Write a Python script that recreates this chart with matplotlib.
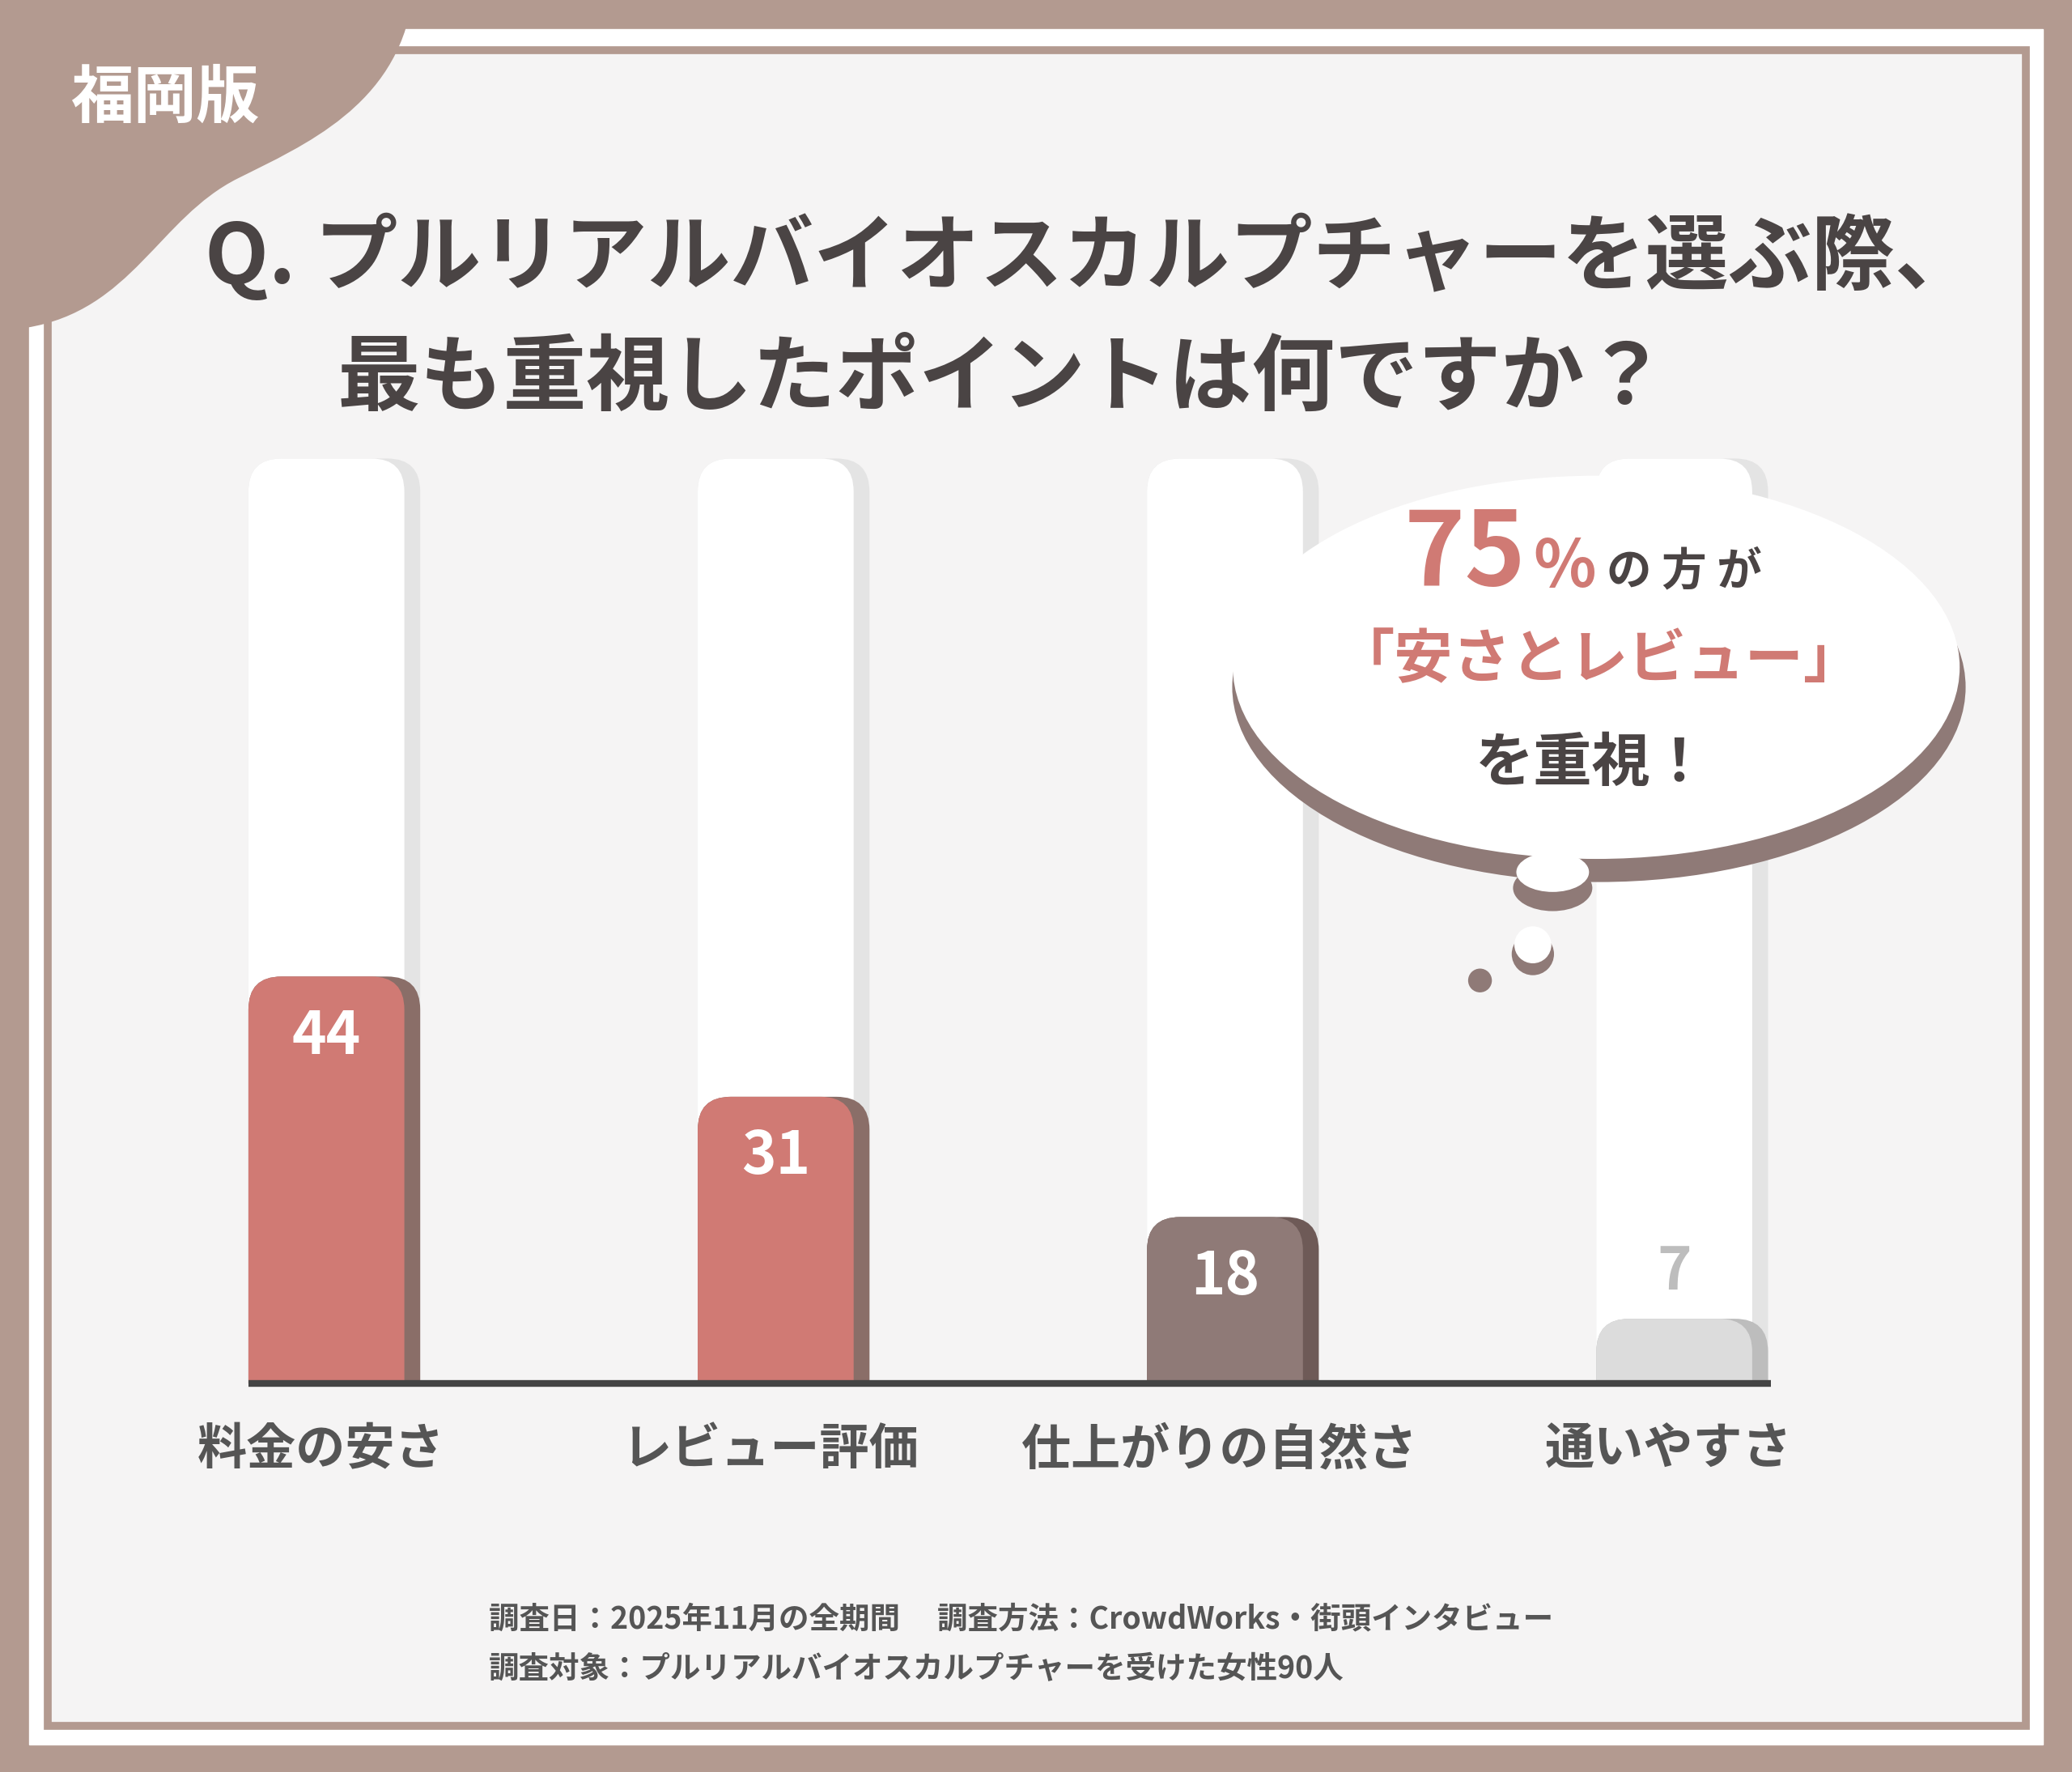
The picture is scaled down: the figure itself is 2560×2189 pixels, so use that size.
import matplotlib
matplotlib.use("Agg")
import matplotlib.pyplot as plt
from matplotlib.patches import Rectangle, FancyBboxPatch, PathPatch, Circle, Ellipse
from matplotlib.path import Path

plt.rcParams['font.family'] = ['Noto Sans CJK JP', 'DejaVu Sans']

categories = ["料金の安さ", "レビュー評価", "仕上がりの自然さ", "通いやすさ"]
values = [44, 31, 18, 7]
bar_colors = ["#d07a74", "#d07a74", "#8f7a77", "#dcdcdc"]
shadow_colors = ["#8a6e68", "#8a6e68", "#6e5a57", "#bdbdbd"]
label_colors = ["white", "white", "white", "#bdbdbd"]

W, H = 1568, 1341
fig = plt.figure(figsize=(25.6, 21.89), dpi=100)
BROWN = "#b39a90"
DARK = "#4a4444"
RED = "#d07a74"

bg = fig.add_axes([0, 0, 1, 1], zorder=0)
bg.set_xlim(0, W); bg.set_ylim(H, 0); bg.axis("off")
bg.add_patch(Rectangle((0, 0), W, H, color=BROWN))
bg.add_patch(Rectangle((22, 22), 1524, 1298, color="white"))
bg.add_patch(Rectangle((36, 38), 1497, 1268, facecolor="#f5f4f4", edgecolor=BROWN, lw=7))
verts = [(0, 0), (312, 0), (300, 80), (230, 110), (180, 135), (120, 165), (100, 235), (20, 248), (0, 250), (0, 0)]
codes = [Path.MOVETO, Path.LINETO, Path.CURVE4, Path.CURVE4, Path.CURVE4, Path.CURVE4, Path.CURVE4, Path.CURVE4, Path.LINETO, Path.CLOSEPOLY]
bg.add_patch(PathPatch(Path(verts, codes), color=BROWN, lw=0))
bg.text(125, 75, "福岡版", color="white", fontsize=56, fontweight="bold", ha="center", va="center")
bg.text(155, 195, "Q. プルリアルバイオスカルプチャーを選ぶ際、", color=DARK, fontsize=74, fontweight="bold", ha="left", va="center")
bg.text(255, 287, "最も重視したポイントは何ですか？", color=DARK, fontsize=74, fontweight="bold", ha="left", va="center")

# bar axes
x_left, x_right = 150, 1380
y_top, y_bot = 347, 1047
c0, sp = 253, 340
ax = fig.add_axes([x_left / W, 1 - y_bot / H, (x_right - x_left) / W, (y_bot - y_top) / H], zorder=1)
ax.set_xlim((x_left - c0) / sp, (x_right - c0) / sp)
ax.set_ylim(0, 100)
ax.axis("off")
ax.patch.set_alpha(0)
pxx = 1 / sp
pxy = 100 / 700
r = 25
asp = (r * pxy) / (r * pxx)
bw = 118 * pxx
sw = 130 * pxx
for i, v in enumerate(values):
    left = i - 65 * pxx
    ax.add_patch(FancyBboxPatch((left, -10), sw, 110, boxstyle=f"round,pad=0,rounding_size={r*pxx}", mutation_aspect=asp, fc="#e4e4e4", ec="none"))
    ax.add_patch(FancyBboxPatch((left, -10), bw, 110, boxstyle=f"round,pad=0,rounding_size={r*pxx}", mutation_aspect=asp, fc="white", ec="none"))
    ax.add_patch(FancyBboxPatch((left, -10), sw, v + 10, boxstyle=f"round,pad=0,rounding_size={r*pxx}", mutation_aspect=asp, fc=shadow_colors[i], ec="none"))
    ax.add_patch(FancyBboxPatch((left, -10), bw, v + 10, boxstyle=f"round,pad=0,rounding_size={r*pxx}", mutation_aspect=asp, fc=bar_colors[i], ec="none"))
    ly = v - 6.5 if v > 10 else v + 5
    ax.text(left + bw / 2, ly, str(v), color=label_colors[i], fontsize=52, fontweight="bold", ha="center", va="center")
    ax.text(i - 0.03, -7.2, categories[i], color="#555555", fontsize=44, fontweight="bold", ha="center", va="center", clip_on=False)
ax.plot([(188 - c0) / sp, (1340 - c0) / sp], [0, 0], color="#444444", lw=6, solid_capstyle="butt", clip_on=False)

# overlay
ov = fig.add_axes([0, 0, 1, 1], zorder=2)
ov.set_xlim(0, W); ov.set_ylim(H, 0); ov.axis("off"); ov.patch.set_alpha(0)
ov.add_patch(Ellipse((1210, 520), 555, 295, fc="#8f7a77", ec="none"))
ov.add_patch(Ellipse((1175, 672), 60, 35, fc="#8f7a77", ec="none"))
ov.add_patch(Ellipse((1208, 505), 550, 290, fc="white", ec="none"))
ov.add_patch(Ellipse((1175, 660), 55, 30, fc="white", ec="none"))
ov.add_patch(Circle((1160, 722), 16, fc="#8f7a77", ec="none"))
ov.add_patch(Circle((1160, 715), 14, fc="white", ec="none"))
ov.add_patch(Circle((1120, 742), 9, fc="#8f7a77", ec="none"))
ov.text(1155, 420, "75", color=RED, fontsize=92, fontweight="bold", ha="right", va="center")
ov.text(1160, 430, "%", color=RED, fontsize=58, fontweight="bold", ha="left", va="center")
ov.text(1216, 433, "の 方 が", color=DARK, fontsize=40, fontweight="bold", ha="left", va="center")
ov.text(1210, 500, "「安さとレビュー」", color=RED, fontsize=52, fontweight="bold", ha="center", va="center")
ov.text(1205, 578, "を重視！", color=DARK, fontsize=52, fontweight="bold", ha="center", va="center")
ov.text(370, 1225, "調査日：2025年11月の全期間　 調査方法：CrowdWorks・街頭インタビュー", color="#555555", fontsize=27, fontweight="bold", ha="left", va="center")
ov.text(370, 1263, "調査対象：プルリアルバイオスカルプチャーを受けた女性90人", color="#555555", fontsize=27, fontweight="bold", ha="left", va="center")

fig.savefig("out.png", dpi=100)
